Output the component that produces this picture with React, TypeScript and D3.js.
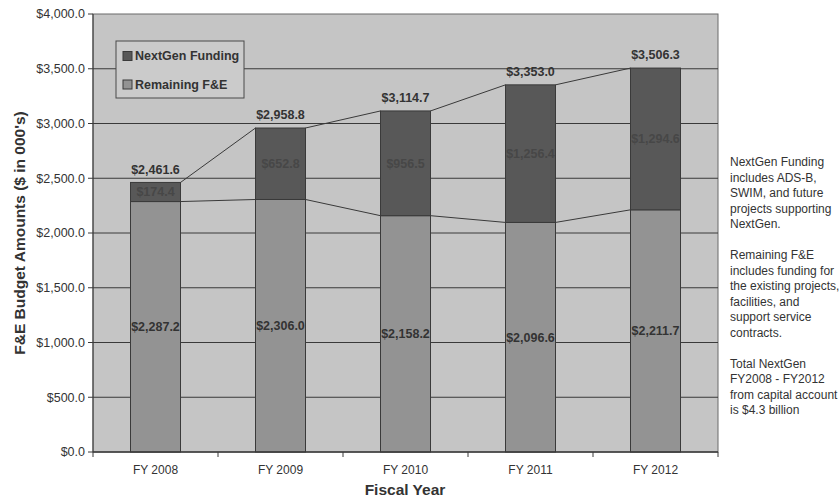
import React from "react";
import * as d3 from "d3";

const categories = ["FY 2008", "FY 2009", "FY 2010", "FY 2011", "FY 2012"];
const remainingFE = [2287.2, 2306.0, 2158.2, 2096.6, 2211.7];
const nextGen = [174.4, 652.8, 956.5, 1256.4, 1294.6];
const totals = [2461.6, 2958.8, 3114.7, 3353.0, 3506.3];
const yTicks = [0, 500, 1000, 1500, 2000, 2500, 3000, 3500, 4000];
const noteLines = [
  ["NextGen Funding", "includes ADS-B,", "SWIM, and future", "projects supporting", "NextGen."],
  ["Remaining F&E", "includes funding for", "the existing projects,", "facilities, and", "support service", "contracts."],
  ["Total NextGen", "FY2008 - FY2012", "from capital account", "is $4.3 billion"],
];

const W = 839, H = 500;
const L = 93, R = 718, T = 14, B = 452;
const PLOT_BG = "#c5c5c5";
const REM_C = "#939393";
const NG_C = "#585858";
const LINE_C = "#3a3a3a";
const TEXT_C = "#333333";
const FONT = "'Liberation Sans', Arial, sans-serif";

const fmt = (v: number) => "$" + d3.format(",.1f")(v);

export default function App() {
  const x = d3.scaleBand<string>().domain(categories).range([L, R]).paddingInner(0.6).paddingOuter(0.3);
  const band = d3.scaleBand<string>().domain(categories).range([L, R]);
  const y = d3.scaleLinear().domain([0, 4000]).range([B, T]);
  const bw = x.bandwidth();

  const remTop = remainingFE.map((v) => v);
  const totTop = remainingFE.map((v, i) => v + nextGen[i]);

  const seriesLines = (tops: number[]) =>
    tops.slice(0, -1).map((v, i) => (
      <line
        key={i}
        x1={x(categories[i])! + bw}
        y1={y(v)}
        x2={x(categories[i + 1])!}
        y2={y(tops[i + 1])}
        stroke={LINE_C}
        strokeWidth={1}
      />
    ));

  let noteY = 162;
  const noteEls: JSX.Element[] = [];
  noteLines.forEach((grp, gi) => {
    grp.forEach((t, ti) => {
      noteEls.push(
        <text key={gi + "-" + ti} x={730} y={noteY} dy="0.35em" fontSize={12} fill={TEXT_C}>
          {t}
        </text>
      );
      noteY += 15.5;
    });
    noteY += 15.5;
  });

  return (
    <svg width={W} height={H} style={{ position: "absolute", left: 0, top: 0, fontFamily: FONT }}>
      <rect x={0} y={0} width={W} height={H} fill="#ffffff" />
      <rect x={L} y={T} width={R - L} height={B - T} fill={PLOT_BG} stroke="#6a6a6a" strokeWidth={1} />
      {yTicks.map((t) => (
        <g key={t}>
          {t > 0 && t < 4000 && <line x1={L} x2={R} y1={y(t)} y2={y(t)} stroke={LINE_C} strokeWidth={1} />}
          <line x1={L - 5} x2={L} y1={y(t)} y2={y(t)} stroke={LINE_C} />
          <text x={L - 8} y={y(t)} dy="0.35em" textAnchor="end" fontSize={12.5} fill={TEXT_C}>
            {fmt(t)}
          </text>
        </g>
      ))}
      {categories.map((c, i) => (
        <g key={c}>
          <rect x={x(c)!} y={y(remTop[i])} width={bw} height={y(0) - y(remTop[i])} fill={REM_C} stroke={LINE_C} strokeWidth={1} />
          <rect x={x(c)!} y={y(totTop[i])} width={bw} height={y(remTop[i]) - y(totTop[i])} fill={NG_C} stroke={LINE_C} strokeWidth={1} />
        </g>
      ))}
      {seriesLines(remTop)}
      {seriesLines(totTop)}
      <line x1={L} x2={L} y1={T} y2={B} stroke={LINE_C} />
      <line x1={L} x2={R} y1={B} y2={B} stroke={LINE_C} strokeWidth={1.5} />
      {categories.map((c, i) => (
        <g key={c}>
          <line x1={band(c)!} x2={band(c)!} y1={B} y2={B + 5} stroke={LINE_C} />
          {i === categories.length - 1 && (
            <line x1={band(c)! + band.bandwidth()} x2={band(c)! + band.bandwidth()} y1={B} y2={B + 5} stroke={LINE_C} />
          )}
          <text x={band(c)! + band.bandwidth() / 2} y={470} dy="0.35em" textAnchor="middle" fontSize={12} fill={TEXT_C}>
            {c}
          </text>
        </g>
      ))}
      {categories.map((c, i) => {
        const cx = x(c)! + bw / 2;
        return (
          <g key={c} fontWeight="bold" fontSize={12.5} textAnchor="middle">
            <text x={cx} y={y(remTop[i] / 2)} dy="0.35em" fill={TEXT_C}>{fmt(remainingFE[i])}</text>
            <text x={cx} y={y(remTop[i] + nextGen[i] / 2)} dy="0.35em" fill="#474747">{fmt(nextGen[i])}</text>
            <text x={cx} y={y(totals[i]) - 13} dy="0.35em" fill={TEXT_C}>{fmt(totals[i])}</text>
          </g>
        );
      })}
      <rect x={116} y={41} width={128} height={57} fill="#cbcbcb" stroke="#4a4a4a" strokeWidth={1} />
      <rect x={123} y={51.5} width={9} height={9} fill={NG_C} stroke={LINE_C} />
      <text x={135} y={56} dy="0.35em" fontSize={12.5} fontWeight="bold" fill={TEXT_C}>NextGen Funding</text>
      <rect x={123} y={80} width={9} height={9} fill={REM_C} stroke={LINE_C} />
      <text x={135} y={84.5} dy="0.35em" fontSize={12.5} fontWeight="bold" fill={TEXT_C}>Remaining F&amp;E</text>
      <text transform={`translate(20,${(T + B) / 2}) rotate(-90)`} dy="0.35em" textAnchor="middle" fontSize={15.5} fontWeight="bold" fill={TEXT_C}>
        F&amp;E Budget Amounts ($ in 000's)
      </text>
      <text x={405} y={490} dy="0.35em" textAnchor="middle" fontSize={15.5} fontWeight="bold" fill={TEXT_C}>
        Fiscal Year
      </text>
      {noteEls}
    </svg>
  );
}
